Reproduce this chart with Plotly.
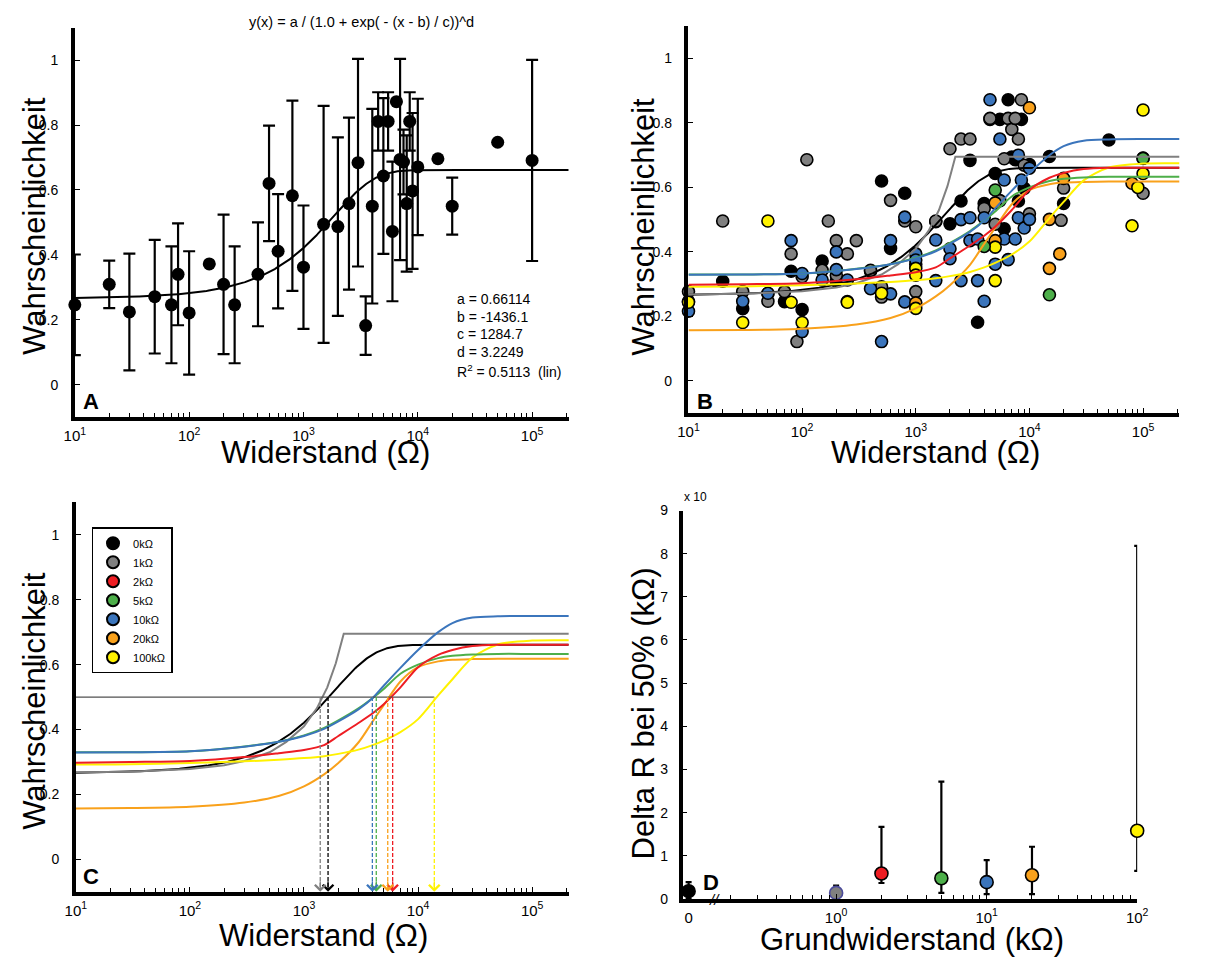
import numpy as np
import plotly.graph_objects as go

FONT = "Liberation Sans, Arial, sans-serif"

# ---------------- Panel A: 0 kOhm group, mean +/- error ----------------
A_R = [10, 20, 30, 50, 70, 80, 100, 150, 200, 250, 400, 500, 600, 800, 1000, 1500, 2000, 2500,
       3000, 3500, 4000, 4500, 5000, 5500, 6000, 6500, 7000, 7500, 8000, 8500, 9000, 10000,
       15000, 20000, 50000, 100000]
A_P = [0.246, 0.309, 0.224, 0.271, 0.246, 0.340, 0.221, 0.372, 0.309, 0.246, 0.340, 0.620, 0.411,
       0.582, 0.362, 0.494, 0.487, 0.558, 0.684, 0.182, 0.550, 0.811, 0.643, 0.811, 0.472, 0.872,
       0.694, 0.686, 0.558, 0.811, 0.597, 0.671, 0.696, 0.550, 0.747, 0.691]
A_ERR = [0.155, 0.073, 0.180, 0.175, 0.180, 0.157, 0.190, 0.0, 0.215, 0.180, 0.160, 0.178, 0.176,
         0.293, 0.190, 0.365, 0.275, 0.265, 0.320, 0.090, 0.300, 0.090, 0.240, 0.090, 0.215, 0.0,
         0.310, 0.100, 0.210, 0.090, 0.240, 0.210, 0.0, 0.088, 0.0, 0.310]

# fit parameters shown in panel A
FIT_A, FIT_B, FIT_C, FIT_D = 0.66114, -1436.1, 1284.7, 3.2249
R2 = 0.5113

# ---------------- Panel B: individual points per group ----------------
B_GRAY_R = [10, 20, 30, 50, 70, 80, 90, 100, 110, 150, 170, 200, 200, 250, 300, 400, 500, 500, 600, 800,
            1000, 1000, 1500, 2000, 2500, 3000, 4000, 4500, 5000, 5500, 6000, 6500, 7000, 7500, 8000,
            8500, 9000, 10000, 19000, 20000, 100000]
B_GRAY_P = [0.277, 0.496, 0.277, 0.247, 0.277, 0.394, 0.122, 0.323, 0.686, 0.343, 0.496, 0.435, 0.328,
            0.394, 0.435, 0.343, 0.292, 0.260, 0.560, 0.496, 0.478, 0.277, 0.496, 0.720, 0.750, 0.750,
            0.535, 0.814, 0.486, 0.559, 0.689, 0.814, 0.780, 0.814, 0.750, 0.872, 0.669, 0.518, 0.498,
            0.598, 0.582]
B_BLUE_R = [10, 30, 50, 80, 100, 100, 150, 200, 200, 250, 400, 500, 600, 600, 800, 800, 1000, 1000,
            1500, 1500, 2000, 2000, 2500, 2500, 3000, 3000, 3500, 3500, 4000, 4000, 4500, 5000, 5500,
            6000, 6000, 6500, 7500, 8000, 8000, 8500, 9000, 10000, 10000]
B_BLUE_P = [0.216, 0.247, 0.272, 0.435, 0.333, 0.153, 0.313, 0.400, 0.345, 0.313, 0.286, 0.122, 0.435,
            0.270, 0.508, 0.245, 0.394, 0.375, 0.437, 0.311, 0.410, 0.379, 0.500, 0.311, 0.506, 0.435,
            0.440, 0.311, 0.247, 0.506, 0.872, 0.362, 0.750, 0.623, 0.440, 0.376, 0.440, 0.700, 0.506,
            0.623, 0.474, 0.501, 0.660]
B_YELLOW_R = [10, 30, 50, 80, 100, 250, 500, 1000, 1000, 1000, 5000, 5000, 80000, 90000, 100000, 100000]
B_YELLOW_P = [0.244, 0.181, 0.496, 0.244, 0.181, 0.244, 0.272, 0.349, 0.328, 0.225, 0.415, 0.311,
              0.481, 0.600, 0.643, 0.840]
B_ORANGE_R = [1000, 5000, 5000, 10000, 15000, 15000, 18500, 20000, 80000]
B_ORANGE_P = [0.242, 0.552, 0.435, 0.847, 0.501, 0.349, 0.394, 0.628, 0.613]
B_GREEN_R = [4000, 5000, 15000, 100000]
B_GREEN_P = [0.417, 0.592, 0.267, 0.690]

# ---------------- fitted curves per group ----------------
CURVE_R = [10, 30, 100, 300, 600, 1000, 1500, 2000, 3000, 4000, 5000, 7000, 10000, 15000, 20000,
           30000, 50000, 100000, 210000]
CURVE_RED = [0.298, 0.300, 0.303, 0.315, 0.327, 0.337, 0.352, 0.380, 0.420, 0.450, 0.478, 0.530, 0.592,
             0.630, 0.645, 0.657, 0.661, 0.661, 0.661]
CURVE_GREEN = [0.330, 0.330, 0.333, 0.348, 0.362, 0.382, 0.405, 0.428, 0.465, 0.497, 0.525, 0.572, 0.600,
               0.620, 0.627, 0.631, 0.633, 0.633, 0.633]
CURVE_BLUE = [0.329, 0.330, 0.333, 0.347, 0.362, 0.380, 0.402, 0.425, 0.462, 0.497, 0.535, 0.590, 0.645,
              0.700, 0.728, 0.745, 0.749, 0.750, 0.750]
CURVE_ORANGE = [0.157, 0.158, 0.162, 0.175, 0.195, 0.225, 0.262, 0.297, 0.360, 0.425, 0.475, 0.548,
                0.592, 0.610, 0.615, 0.617, 0.618, 0.618, 0.618]
CURVE_YELLOW = [0.292, 0.293, 0.297, 0.302, 0.307, 0.312, 0.318, 0.325, 0.338, 0.352, 0.366, 0.392,
                0.432, 0.505, 0.555, 0.622, 0.662, 0.674, 0.675]
GRAY_CURVE_R = [10, 30, 100, 200, 300, 500, 700, 1000, 1300, 1600, 1900, 2230, 210000]
GRAY_CURVE_P = [0.268, 0.270, 0.278, 0.290, 0.303, 0.330, 0.362, 0.410, 0.466, 0.530, 0.604, 0.695, 0.695]

# ---------------- Panel C: legend groups and 50 % crossing ----------------
GROUPS = ["0kΩ", "1kΩ", "2kΩ", "5kΩ", "10kΩ", "20kΩ", "100kΩ"]
COLORS = ["#000000", "#808080", "#EE1D23", "#4DAF4A", "#3B75BC", "#F9A11B", "#FFF200"]
CROSS_R = [1625, 1388, 5985, 4300, 3975, 5420, 13870]

# ---------------- Panel D ----------------
D_GRUND = [0, 1, 2, 5, 10, 20, 100]
D_VAL = [0.18, 0.14, 0.59, 0.48, 0.39, 0.55, 1.58]
D_HI = [0.39, 0.31, 1.67, 2.72, 0.90, 1.21, 8.18]
D_LO = [0.00, 0.00, 0.37, 0.14, 0.11, 0.11, 0.65]
D_EDGE = ["#000000", "#4A4A9A", "#000000", "#000000", "#000000", "#000000", "#000000"]


def model(x, a, b, c, d):
    return a / (1.0 + np.exp(-(x - b) / c)) ** d


fig = go.Figure()

# ---- Panel A
fig.add_trace(go.Scatter(
    x=A_R, y=A_P, mode="markers", xaxis="x", yaxis="y", showlegend=False, cliponaxis=False,
    marker=dict(size=13, color="black"),
    error_y=dict(type="data", array=A_ERR, color="black", thickness=2.2, width=6)))
xs = np.logspace(1, 5.32, 500)
fig.add_trace(go.Scatter(x=xs, y=model(xs, FIT_A, FIT_B, FIT_C, FIT_D), mode="lines",
                         line=dict(color="black", width=2), xaxis="x", yaxis="y", showlegend=False))

# ---- Panel B points
pt_line = dict(color="black", width=1.6)
fig.add_trace(go.Scatter(x=A_R, y=A_P, mode="markers", xaxis="x2", yaxis="y2", showlegend=False,
                         cliponaxis=False, marker=dict(size=12, color="black", line=pt_line)))
for rr, pp, col in [(B_GRAY_R, B_GRAY_P, COLORS[1]), (B_BLUE_R, B_BLUE_P, COLORS[4]),
                    (B_ORANGE_R, B_ORANGE_P, COLORS[5]), (B_YELLOW_R, B_YELLOW_P, COLORS[6]),
                    (B_GREEN_R, B_GREEN_P, COLORS[3])]:
    fig.add_trace(go.Scatter(x=rr, y=pp, mode="markers", xaxis="x2", yaxis="y2", showlegend=False,
                             cliponaxis=False, marker=dict(size=12, color=col, line=pt_line)))


# ---- curves for B and C
def add_curves(xa, ya):
    fig.add_trace(go.Scatter(x=xs, y=model(xs, FIT_A, FIT_B, FIT_C, FIT_D), mode="lines",
                             line=dict(color=COLORS[0], width=2), xaxis=xa, yaxis=ya, showlegend=False))
    fig.add_trace(go.Scatter(x=GRAY_CURVE_R, y=GRAY_CURVE_P, mode="lines",
                             line=dict(color=COLORS[1], width=2), xaxis=xa, yaxis=ya, showlegend=False))
    for vals, col in [(CURVE_ORANGE, COLORS[5]), (CURVE_YELLOW, COLORS[6]), (CURVE_GREEN, COLORS[3]),
                      (CURVE_RED, COLORS[2]), (CURVE_BLUE, COLORS[4])]:
        fig.add_trace(go.Scatter(x=CURVE_R, y=vals, mode="lines",
                                 line=dict(color=col, width=2, shape="spline", smoothing=0.8),
                                 xaxis=xa, yaxis=ya, showlegend=False))


add_curves("x2", "y2")
add_curves("x3", "y3")

# ---- Panel C: 50 % line, dashed drop lines, legend
fig.add_trace(go.Scatter(x=[10, max(CROSS_R)], y=[0.5, 0.5], mode="lines",
                         line=dict(color="#505050", width=1.2), xaxis="x3", yaxis="y3", showlegend=False))
annotations = []
for r, col in zip(CROSS_R, COLORS):
    fig.add_trace(go.Scatter(x=[r, r], y=[0.5, -0.085], mode="lines",
                             line=dict(color=col, width=1.3, dash="4px,2px"),
                             xaxis="x3", yaxis="y3", showlegend=False))
    annotations.append(dict(x=np.log10(r), y=-0.1, xref="x3", yref="y3", ax=0, ay=-12,
                            showarrow=True, arrowhead=4, arrowsize=1.6, arrowwidth=1.3,
                            arrowcolor=col, text=""))
for name, col in zip(GROUPS, COLORS):
    fig.add_trace(go.Scatter(x=[None], y=[None], mode="markers", name=name, xaxis="x3", yaxis="y3",
                             marker=dict(size=9, color=col, line=dict(color="black", width=1))))

# ---- Panel D
ZERO_POS = 10 ** -0.98
d_x = [ZERO_POS if g == 0 else g for g in D_GRUND]
fig.add_trace(go.Scatter(
    x=d_x, y=D_VAL, mode="markers", xaxis="x4", yaxis="y4", showlegend=False, cliponaxis=False,
    marker=dict(size=13, color=COLORS, line=dict(color=D_EDGE, width=1.6)),
    error_y=dict(type="data", symmetric=False,
                 array=[h - v for h, v in zip(D_HI, D_VAL)],
                 arrayminus=[v - l for v, l in zip(D_VAL, D_LO)],
                 color="black", thickness=2.2, width=3)))

# ---------------- axes ----------------
W, H = 1213, 964


def px_x(p):
    return p / W


def px_y(p):
    return 1 - p / H


def log_ticks(d0, d1, lo, hi):
    major, text, minor = [], [], []
    for e in range(d0, d1 + 1):
        for m in range(1, 10):
            v = m * 10 ** e
            if v < lo * 0.999 or v > hi * 1.001:
                continue
            if m == 1:
                major.append(v)
                text.append(f"10<sup>{e}</sup>")
            else:
                minor.append(v)
    return major, text, minor


axis_common = dict(showline=True, linewidth=3.5, linecolor="black", ticks="inside", ticklen=5,
                   tickwidth=1.3, tickcolor="black", showgrid=False, zeroline=False,
                   tickfont=dict(family=FONT, size=14, color="black"))
minor_style = dict(ticks="inside", ticklen=4, tickwidth=1.2, tickcolor="black", showgrid=False)

xv, xt, xm = log_ticks(1, 5, 10, 2.1e5)

yv = [0, 0.2, 0.4, 0.6, 0.8, 1]
yt = ["0", "0.2", "0.4", "0.6", "0.8", "1"]

layout_axes = {}
panels = {
    "": ([65, 568], [20, 416]),
    "2": ([690, 1190], [18.5, 412]),
    "3": ([66, 568], [502.7, 898.7]),
}
for k, (xd, yd) in panels.items():
    layout_axes["xaxis" + k] = dict(axis_common, type="log", range=[1, 5.32],
                                    domain=[px_x(xd[0]), px_x(xd[1])], anchor="y" + k,
                                    tickmode="array", tickvals=xv, ticktext=xt, ticklabelstandoff=2,
                                    tickfont=dict(family=FONT, size=15, color="black"),
                                    minor=dict(minor_style, tickmode="array", tickvals=xm))
    layout_axes["yaxis" + k] = dict(axis_common, range=[-0.1, 1.1],
                                    domain=[px_y(yd[1]), px_y(yd[0])], anchor="x" + k,
                                    tickmode="array", tickvals=yv, ticktext=yt, ticklabelstandoff=10)

dv, dt, dm = log_ticks(-1, 2, 0.2, 100)
dv = [ZERO_POS] + dv
dt = ["0"] + dt
layout_axes["xaxis4"] = dict(axis_common, type="log", range=[-1.02, 2.0],
                             domain=[px_x(684), px_x(1147)], anchor="y4",
                             tickmode="array", tickvals=dv, ticktext=dt, ticklabelstandoff=2,
                             tickfont=dict(family=FONT, size=15, color="black"),
                             minor=dict(minor_style, tickmode="array", tickvals=dm))
layout_axes["yaxis4"] = dict(axis_common, range=[0, 9], domain=[px_y(906), px_y(511)], anchor="x4",
                             tickmode="array", tickvals=list(range(10)),
                             ticktext=[str(i) for i in range(10)], ticklabelstandoff=8)


def ann(x, y, text, size, **kw):
    d = dict(x=px_x(x), y=px_y(y), xref="paper", yref="paper", text=text, showarrow=False,
             font=dict(family=FONT, size=size, color="black"), xanchor="center", yanchor="middle")
    d.update(kw)
    return d


TITLE_SIZE = 31
annotations += [
    ann(24, 222, "Wahrscheinlichkeit", TITLE_SIZE, textangle=-90),
    ann(644, 222, "Wahrscheinlichkeit", TITLE_SIZE, textangle=-90),
    ann(24, 705, "Wahrscheinlichkeit", TITLE_SIZE, textangle=-90),
    ann(644, 717, "Delta R bei 50% (kΩ)", TITLE_SIZE, textangle=-90),
    ann(320, 452, "Widerstand (Ω)", TITLE_SIZE),
    ann(942, 452, "Widerstand (Ω)", TITLE_SIZE),
    ann(318, 943, "Widerstand (Ω)", TITLE_SIZE),
    ann(918, 947, "Grundwiderstand (kΩ)", TITLE_SIZE),
    ann(357, 14, "y(x) = a / (1.0 + exp( - (x - b) / c))^d", 14.5),
    ann(452, 296, f"a = {FIT_A}", 14, xanchor="left"),
    ann(452, 314, f"b = {FIT_B}", 14, xanchor="left"),
    ann(452, 332, f"c = {FIT_C}", 14, xanchor="left"),
    ann(452, 350, f"d = {FIT_D}", 14, xanchor="left"),
    ann(452, 369, f"R<sup>2</sup> = {R2}\u00a0\u00a0(lin)", 14, xanchor="left"),
    ann(81, 400, "<b>A</b>", 22),
    ann(707, 400, "<b>B</b>", 22),
    ann(81, 883, "<b>C</b>", 22),
    ann(713, 889, "<b>D</b>", 22),
    ann(697, 497, "x 10", 12),
    ann(716, 907, "<i>//</i>", 15),
]

fig.update_layout(
    width=W, height=H, margin=dict(l=0, r=0, t=0, b=0),
    paper_bgcolor="white", plot_bgcolor="white",
    font=dict(family=FONT, color="black"),
    annotations=annotations,
    legend=dict(x=px_x(82), y=px_y(528), xanchor="left", yanchor="top",
                bgcolor="white", bordercolor="black", borderwidth=1.5,
                font=dict(family=FONT, size=11, color="black"), tracegroupgap=0,
                itemsizing="constant"),
    **layout_axes,
)

fig.write_html("out.html")
